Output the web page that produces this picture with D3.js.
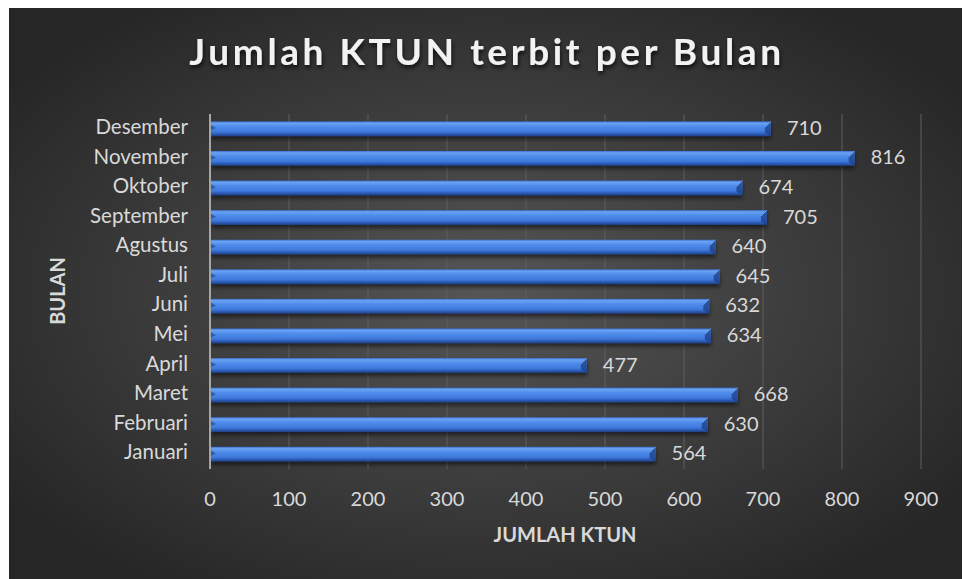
<!DOCTYPE html>
<html><head><meta charset="utf-8">
<script src="https://cdn.jsdelivr.net/npm/d3@7"></script>
<style>html,body{margin:0;padding:0;background:#fff;overflow:hidden}svg{display:block}</style>
</head><body>
<script>
const months = ["Januari","Februari","Maret","April","Mei","Juni","Juli","Agustus","September","Oktober","November","Desember"];
const values = [564,630,668,477,634,632,645,640,705,674,816,710];
const xTicks = [0,100,200,300,400,500,600,700,800,900];
const title = "Jumlah KTUN terbit per Bulan";
const xTitle = "JUMLAH KTUN";
const yTitle = "BULAN";

const W = 963, H = 579;
const font = "Lato, 'Open Sans', sans-serif";
const svg = d3.select("body").append("svg").attr("width", W).attr("height", H);
const defs = svg.append("defs");

const rg = defs.append("radialGradient").attr("id","bg").attr("cx","0.5").attr("cy","0.5").attr("r","0.62");
rg.append("stop").attr("offset","0").attr("stop-color","#565656");
rg.append("stop").attr("offset","1").attr("stop-color","#262626");

const bg = defs.append("linearGradient").attr("id","bar").attr("x1",0).attr("y1",0).attr("x2",0).attr("y2",1);
[[0,"#3d6fcf"],[0.12,"#6aa3f3"],[0.35,"#4f8ceb"],[0.7,"#3f79dc"],[0.85,"#2c5cb8"],[1,"#1f3f80"]].forEach(([o,c])=>bg.append("stop").attr("offset",o).attr("stop-color",c));

const shadow = defs.append("filter").attr("id","ts").attr("x","-10%").attr("y","-20%").attr("width","120%").attr("height","160%");
shadow.append("feDropShadow").attr("dx",1).attr("dy",3).attr("stdDeviation",2).attr("flood-color","#000").attr("flood-opacity",0.7);
const bshadow = defs.append("filter").attr("id","bs").attr("x","-5%").attr("y","-30%").attr("width","110%").attr("height","190%");
bshadow.append("feDropShadow").attr("dx",0).attr("dy",3).attr("stdDeviation",2).attr("flood-color","#000").attr("flood-opacity",0.55);

svg.append("rect").attr("x",9).attr("y",8).attr("width",953).attr("height",H-8).attr("fill","url(#bg)");

const x = d3.scaleLinear().domain([0,900]).range([210,921]);
const y = d3.scaleBand().domain(months.slice().reverse()).range([114,469]).paddingInner(0.5).paddingOuter(0.25);

// gridlines
svg.append("g").selectAll("line").data(xTicks.slice(1)).join("line")
  .attr("x1",d=>x(d)).attr("x2",d=>x(d)).attr("y1",114).attr("y2",469)
  .attr("stroke","#5e5e5e").attr("stroke-width",1);

// bars
const bars = svg.append("g");
months.forEach((m,i)=>{
  const v = values[i];
  const y0 = y(m), h = y.bandwidth(), x0 = x(0)+1, x1 = x(v);
  const g = bars.append("g").attr("filter","url(#bs)");
  g.append("rect").attr("x",x0).attr("y",y0).attr("width",x1-x0).attr("height",h).attr("fill","url(#bar)");
  g.append("path").attr("d",`M${x1},${y0} L${x1-6},${y0+h*0.4} L${x1-6},${y0+h*0.75} L${x1},${y0+h} Z`).attr("fill","#1d3f85").attr("opacity",0.75);
  g.append("path").attr("d",`M${x0},${y0+h*0.25} L${x0+5},${y0+h*0.45} L${x0},${y0+h*0.6} Z`).attr("fill","#1d3f85").attr("opacity",0.6);
  g.append("path").attr("d",`M${x1},${y0} L${x1-6},${y0+h*0.4}`).attr("stroke","#7fb0f5").attr("stroke-width",1).attr("opacity",0.7);
});

// axis line
svg.append("line").attr("x1",210).attr("x2",210).attr("y1",114).attr("y2",469).attr("stroke","#a6a6a6").attr("stroke-width",2);

// value labels
svg.append("g").selectAll("text").data(months).join("text")
  .attr("x",(d,i)=>x(values[i])+16).attr("y",d=>y(d)+y.bandwidth()/2+1)
  .attr("dominant-baseline","middle").attr("fill","#d9d9d9")
  .style("font-family",font).style("font-size","20px").text((d,i)=>values[i]);

// category labels
svg.append("g").selectAll("text").data(months).join("text")
  .attr("x",188).attr("y",d=>y(d)+y.bandwidth()/2).attr("text-anchor","end")
  .attr("dominant-baseline","middle").attr("fill","#d9d9d9")
  .style("font-family",font).style("font-size","20.5px").text(d=>d);

// x tick labels
svg.append("g").selectAll("text").data(xTicks).join("text")
  .attr("x",d=>x(d)).attr("y",501).attr("text-anchor","middle").attr("dominant-baseline","middle")
  .attr("fill","#d9d9d9").style("font-family",font).style("font-size","20px").text(d=>d);

// title
svg.append("text").attr("x",487).attr("y",56).attr("text-anchor","middle").attr("dominant-baseline","middle")
  .attr("fill","#f2f2f2").attr("filter","url(#ts)")
  .style("font-family",font).style("font-size","37px").style("font-weight","bold").style("letter-spacing","3.6px")
  .text(title);

// axis titles
svg.append("text").attr("x",565).attr("y",537).attr("text-anchor","middle").attr("dominant-baseline","middle")
  .attr("fill","#d9d9d9").style("font-family",font).style("font-size","20px").style("font-weight","bold").text(xTitle);
svg.append("text").attr("transform","translate(60,291) rotate(-90)").attr("text-anchor","middle").attr("dominant-baseline","middle")
  .attr("fill","#d9d9d9").style("font-family",font).style("font-size","20px").style("font-weight","bold").text(yTitle);
</script>
</body></html>
